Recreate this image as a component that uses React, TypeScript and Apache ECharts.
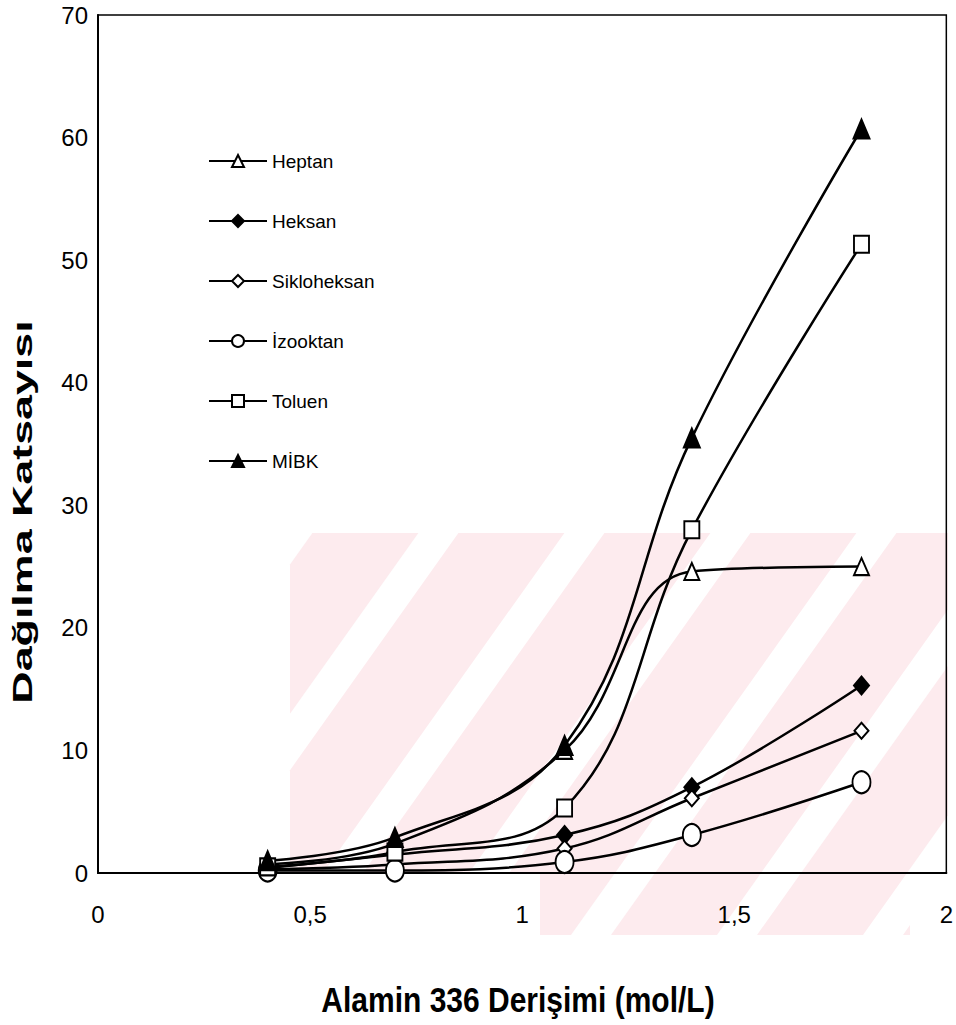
import React, { useEffect, useRef } from "react";
import * as echarts from "echarts";

// Alamin 336 concentration (mol/L)
const concentrations = [0.4, 0.7, 1.1, 1.4, 1.8];
const heptan = [0.7, 2.4, 10.0, 24.6, 25.0];
const heksan = [0.4, 1.5, 3.1, 7.0, 15.3];
const sikloheksan = [0.3, 0.7, 2.0, 6.1, 11.6];
const izooktan = [0.2, 0.2, 0.9, 3.1, 7.4];
const toluen = [0.5, 1.7, 5.3, 28.0, 51.3];
const mibk = [1.0, 2.9, 10.4, 35.5, 60.7];

const seriesNames = ["Heptan", "Heksan", "Sikloheksan", "İzooktan", "Toluen", "MİBK"];
const xAxisTitle = "Alamin 336 Derişimi (mol/L)";
const yAxisTitle = "Dağılma Katsayısı";

type Pt = [number, number];

function clipPoly(poly: Pt[], xmin: number, ymin: number, xmax: number, ymax: number): Pt[] {
  const edges: [(p: Pt) => boolean, (a: Pt, b: Pt) => Pt][] = [
    [(p) => p[0] >= xmin, (a, b) => { const t = (xmin - a[0]) / (b[0] - a[0]); return [xmin, a[1] + t * (b[1] - a[1])]; }],
    [(p) => p[0] <= xmax, (a, b) => { const t = (xmax - a[0]) / (b[0] - a[0]); return [xmax, a[1] + t * (b[1] - a[1])]; }],
    [(p) => p[1] >= ymin, (a, b) => { const t = (ymin - a[1]) / (b[1] - a[1]); return [a[0] + t * (b[0] - a[0]), ymin]; }],
    [(p) => p[1] <= ymax, (a, b) => { const t = (ymax - a[1]) / (b[1] - a[1]); return [a[0] + t * (b[0] - a[0]), ymax]; }],
  ];
  let out = poly;
  for (const [inside, inter] of edges) {
    const input = out;
    out = [];
    for (let i = 0; i < input.length; i++) {
      const cur = input[i];
      const prev = input[(i + input.length - 1) % input.length];
      if (inside(cur)) {
        if (!inside(prev)) out.push(inter(prev, cur));
        out.push(cur);
      } else if (inside(prev)) {
        out.push(inter(prev, cur));
      }
    }
    if (!out.length) break;
  }
  return out;
}

function watermark() {
  const els: any[] = [];
  const slope = 0.71;
  const clips: [number, number, number, number][] = [
    [290, 533, 948, 873],
    [540, 873, 910, 935],
  ];
  for (let k = -3; k <= 6; k++) {
    const x0 = 363 + k * 146;
    const w = 106;
    const poly: Pt[] = [
      [x0 + slope * 340, 533],
      [x0 + slope * 340 + w, 533],
      [x0 - slope * 62 + w, 935],
      [x0 - slope * 62, 935],
    ];
    for (const r of clips) {
      const c = clipPoly(poly, r[0], r[1], r[2], r[3]);
      if (c.length >= 3) {
        els.push({ type: "polygon", z: -10, silent: true, shape: { points: c }, style: { fill: "#fdebee" } });
      }
    }
  }
  return els;
}

const pairs = (ys: number[]) => concentrations.map((x, i) => [x, ys[i]]);

export default function App() {
  const ref = useRef<HTMLDivElement>(null);
  useEffect(() => {
    const chart = echarts.init(ref.current!, null, { renderer: "svg" });
    const font = "Arial, 'Liberation Sans', sans-serif";
    const mk = (name: string, ys: number[], symbol: string, size: number[], filled: boolean) => ({
      name,
      type: "line",
      data: pairs(ys),
      smooth: 0.4,
      symbol,
      symbolSize: size,
      showSymbol: true,
      lineStyle: { color: "#000", width: 2.5 },
      itemStyle: { color: filled ? "#000" : "#fff", borderColor: "#000", borderWidth: 2 },
      z: 3,
    });
    chart.setOption({
      animation: false,
      backgroundColor: "#fff",
      grid: { left: 98, top: 15, width: 850, height: 858, show: true, borderColor: "#000", borderWidth: 1.5, backgroundColor: "transparent" },
      legend: {
        orient: "vertical",
        left: 203,
        top: 146,
        itemWidth: 58,
        itemHeight: 15,
        itemGap: 40,
        data: seriesNames,
        textStyle: { color: "#000", fontSize: 19, fontFamily: font, lineHeight: 20 },
      },
      xAxis: {
        type: "value",
        min: 0,
        max: 2,
        interval: 0.5,
        axisLine: { show: true, lineStyle: { color: "#000", width: 2 } },
        axisTick: { show: false },
        splitLine: { show: false },
        axisLabel: {
          color: "#000",
          fontSize: 24,
          fontFamily: font,
          margin: 29,
          formatter: (v: number) => String(v).replace(".", ","),
        },
      },
      yAxis: {
        type: "value",
        min: 0,
        max: 70,
        interval: 10,
        axisLine: { show: true, lineStyle: { color: "#000", width: 2 } },
        axisTick: { show: false },
        splitLine: { show: false },
        axisLabel: { color: "#000", fontSize: 24, fontFamily: font, margin: 10 },
      },
      graphic: [
        ...watermark(),
        {
          type: "text",
          x: 518,
          y: 1000,
          scaleY: 1.15,
          style: { text: xAxisTitle, font: `bold 30px ${font}`, fill: "#000", textAlign: "center", textVerticalAlign: "middle", align: "center", verticalAlign: "middle" },
        },
        {
          type: "text",
          x: 22,
          y: 512,
          rotation: Math.PI / 2,
          scaleX: 1.6,
          style: { text: yAxisTitle, font: `bold 28px ${font}`, fill: "#000", textAlign: "center", textVerticalAlign: "middle", align: "center", verticalAlign: "middle" },
        },
      ],
      series: [
        mk("Heptan", heptan, "triangle", [15, 17], false),
        mk("Heksan", heksan, "diamond", [15, 18], true),
        mk("Sikloheksan", sikloheksan, "diamond", [14, 16], false),
        mk("İzooktan", izooktan, "circle", [18, 22], false),
        mk("Toluen", toluen, "rect", [15, 17], false),
        mk("MİBK", mibk, "triangle", [16, 19], true),
      ],
    });
    return () => chart.dispose();
  }, []);
  return <div ref={ref} style={{ position: "absolute", left: 0, top: 0, width: 956, height: 1025 }} />;
}
